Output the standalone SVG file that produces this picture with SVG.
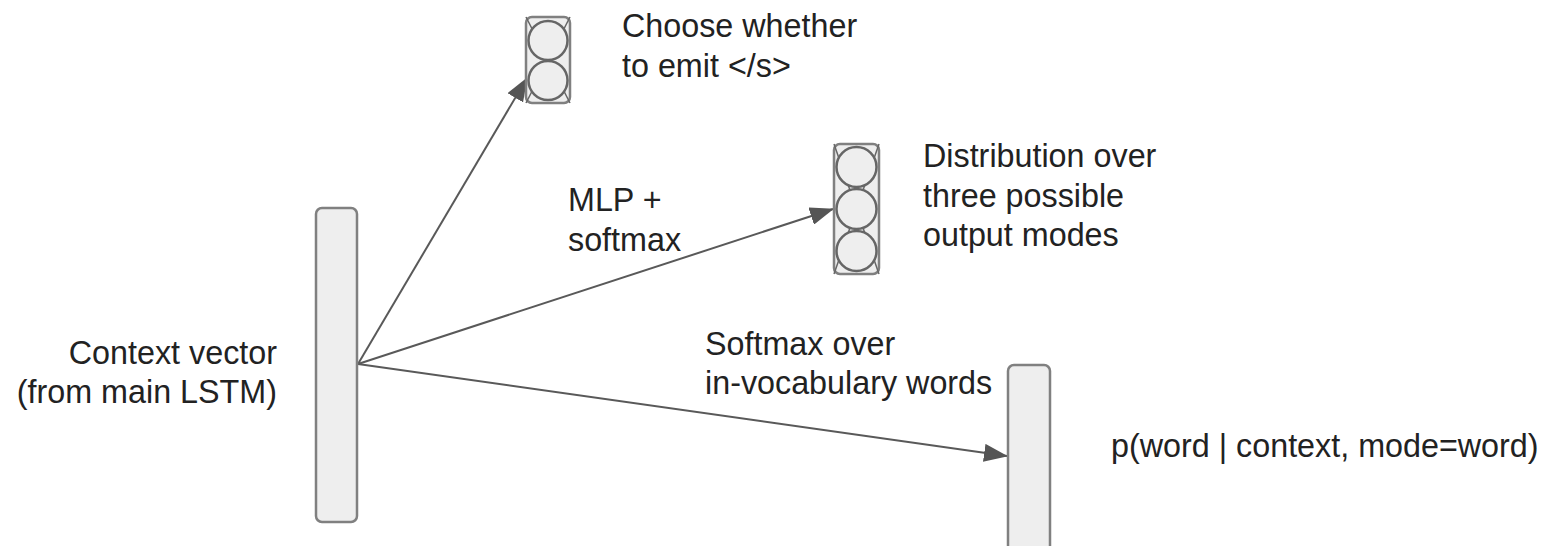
<svg xmlns="http://www.w3.org/2000/svg" width="1547" height="546" viewBox="0 0 1547 546">
<style>
.box{fill:#eeeeee;stroke:#808080;stroke-width:2.5}
.cell{fill:#eeeeee;stroke:#666666;stroke-width:2.5}
.diag{stroke:#666666;stroke-width:1.5}
.edge{fill:none;stroke:#595959;stroke-width:2}
text{font-family:"Liberation Sans",Arial,sans-serif;font-size:32.3px;fill:#222222}
</style>
<defs>
<marker id="arr" viewBox="0 0 24 18" refX="23" refY="9" markerWidth="24" markerHeight="18" markerUnits="userSpaceOnUse" orient="auto">
<path d="M0,0 L24,9 L0,18 Z" fill="#555555"/>
</marker>
</defs>
<rect width="1547" height="546" fill="#ffffff"/>
<g id="connectors">
<line class="edge" x1="358" y1="364" x2="527" y2="78" marker-end="url(#arr)"/>
<line class="edge" x1="358" y1="364" x2="833" y2="209" marker-end="url(#arr)"/>
<line class="edge" x1="358" y1="364" x2="1007" y2="456" marker-end="url(#arr)"/>
</g>
<g id="context">
<rect class="box" x="316" y="208" width="41" height="314" rx="6"/>
<text x="277" y="364" text-anchor="end">Context vector</text>
<text x="277" y="403" text-anchor="end">(from main LSTM)</text>
</g>
<g id="emit">
<rect class="box" x="526" y="17" width="44" height="86" rx="6"/>
<line class="diag" x1="526" y1="17" x2="570" y2="103"/>
<line class="diag" x1="570" y1="17" x2="526" y2="103"/>
<circle class="cell" cx="548" cy="40.5" r="19.5"/>
<circle class="cell" cx="548" cy="80.5" r="19.5"/>
<text x="622" y="37">Choose whether</text>
<text x="622" y="77">to emit &lt;/s&gt;</text>
</g>
<g id="modes">
<rect class="box" x="834" y="144" width="45" height="130" rx="6"/>
<line class="diag" x1="834" y1="144" x2="879" y2="274"/>
<line class="diag" x1="879" y1="144" x2="834" y2="274"/>
<circle class="cell" cx="856.5" cy="167" r="20"/>
<circle class="cell" cx="856.5" cy="209" r="20"/>
<circle class="cell" cx="856.5" cy="251" r="20"/>
<text x="923" y="167">Distribution over</text>
<text x="923" y="207">three possible</text>
<text x="923" y="246">output modes</text>
</g>
<g id="mlp-label">
<text x="568" y="211">MLP +</text>
<text x="568" y="251">softmax</text>
</g>
<g id="vocab">
<rect class="box" x="1008" y="365" width="42" height="200" rx="6"/>
<text x="705" y="355">Softmax over</text>
<text x="705" y="394">in-vocabulary words</text>
<text x="1111" y="457">p(word | context, mode=word)</text>
</g>
</svg>
